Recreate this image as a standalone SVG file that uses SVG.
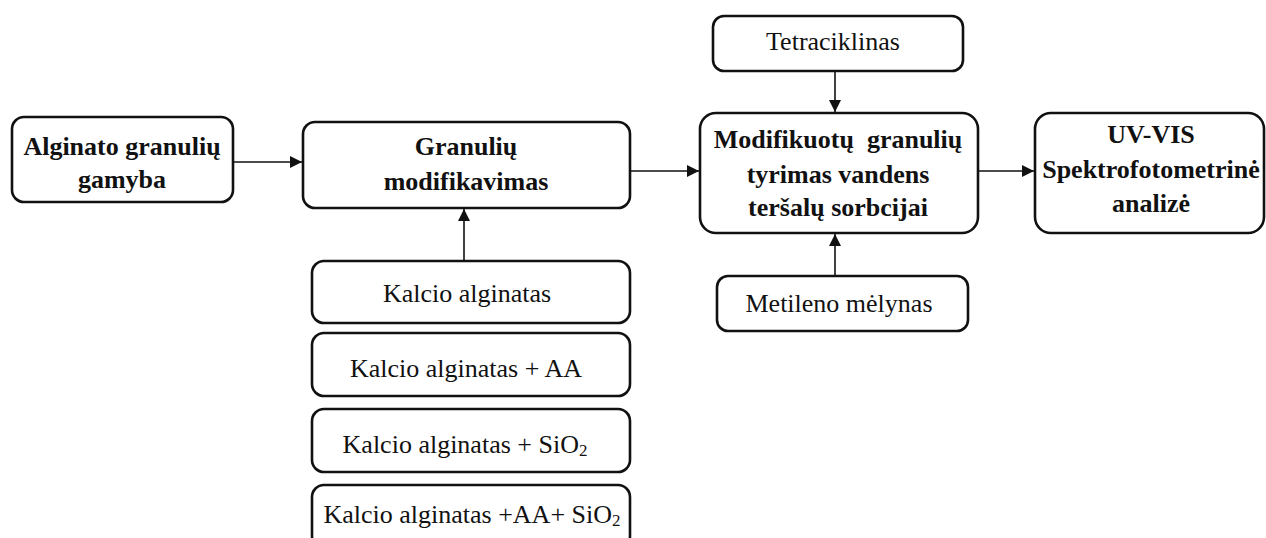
<svg xmlns="http://www.w3.org/2000/svg" width="1266" height="538" viewBox="0 0 1266 538">
<style>
.box{fill:#fff;stroke:#111;stroke-width:2.6}
.t{font-family:"Liberation Serif","Times New Roman",serif;font-size:26px;fill:#111;text-anchor:middle}
.b{font-weight:bold}
.c{stroke:#111;stroke-width:1.6;fill:none;marker-end:url(#ah)}
</style>
<defs>
<marker id="ah" markerUnits="userSpaceOnUse" markerWidth="14" markerHeight="12" refX="12" refY="6" orient="auto">
<path d="M0,0 L12,6 L0,12 Z" fill="#111"/>
</marker>
</defs>
<rect width="1266" height="538" fill="#fff"/>
<g id="connectors">
<line class="c" x1="233" y1="162" x2="302" y2="162"/>
<line class="c" x1="630" y1="171" x2="699" y2="171"/>
<line class="c" x1="978" y1="171" x2="1034" y2="171"/>
<line class="c" x1="464" y1="261" x2="464" y2="209"/>
<line class="c" x1="835" y1="71" x2="835" y2="112"/>
<line class="c" x1="835" y1="276" x2="835" y2="234"/>
</g>
<g id="n1">
<rect class="box" x="12" y="117" width="221" height="85" rx="12"/>
<text class="t b" x="122" y="155">Alginato granulių</text>
<text class="t b" x="122" y="188">gamyba</text>
</g>
<g id="n2">
<rect class="box" x="303" y="122" width="327" height="86" rx="12"/>
<text class="t b" x="466" y="155">Granulių</text>
<text class="t b" x="466" y="190">modifikavimas</text>
</g>
<g id="n3">
<rect class="box" x="700" y="113" width="278" height="120" rx="16"/>
<text class="t b" x="838" y="148" xml:space="preserve">Modifikuotų  granulių</text>
<text class="t b" x="838" y="183">tyrimas vandens</text>
<text class="t b" x="838" y="216">teršalų sorbcijai</text>
</g>
<g id="n4">
<rect class="box" x="1035" y="113" width="229" height="120" rx="16"/>
<text class="t b" x="1151" y="143">UV-VIS</text>
<text class="t b" x="1151" y="178">Spektrofotometrinė</text>
<text class="t b" x="1151" y="212">analizė</text>
</g>
<g id="n5">
<rect class="box" x="713" y="16" width="250" height="55" rx="11"/>
<text class="t" x="833" y="50">Tetraciklinas</text>
</g>
<g id="n6">
<rect class="box" x="717" y="276" width="251" height="55" rx="11"/>
<text class="t" x="839" y="312">Metileno mėlynas</text>
</g>
<g id="n7">
<rect class="box" x="312" y="261" width="318" height="62" rx="12"/>
<text class="t" x="467" y="302">Kalcio alginatas</text>
</g>
<g id="n8">
<rect class="box" x="312" y="333" width="318" height="63" rx="12"/>
<text class="t" x="466" y="377">Kalcio alginatas + AA</text>
</g>
<g id="n9">
<rect class="box" x="312" y="409" width="318" height="63" rx="12"/>
<text class="t" x="465" y="453">Kalcio alginatas + SiO<tspan font-size="17" dy="3">2</tspan></text>
</g>
<g id="n10">
<rect class="box" x="312" y="485" width="318" height="63" rx="12"/>
<text class="t" x="472" y="523">Kalcio alginatas +AA+ SiO<tspan font-size="17" dy="3">2</tspan></text>
</g>
</svg>
